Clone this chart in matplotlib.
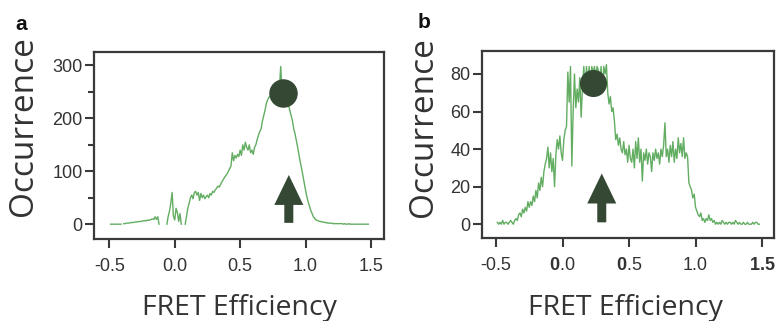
import numpy as np
import matplotlib
matplotlib.use("Agg")
import matplotlib.pyplot as plt

plt.rcParams['axes.unicode_minus'] = False
plt.rcParams['mathtext.fontset'] = 'custom'
plt.rcParams['mathtext.rm'] = 'Liberation Sans'
plt.rcParams['mathtext.bf'] = 'Liberation Sans:bold'

nan = np.nan

# ---------------- data ----------------
x_a = np.round(np.arange(-0.49, 1.485, 0.01), 2)
occ_a = [
    0, 0, 0, 0, 0, 0, 0, 0, 0, nan,            # -0.49 .. -0.40
    1, 1, 2, 2, 2, 3, 3, 3, 4, 4,              # -0.39 .. -0.30
    4, 5, 5, 5, 6, 6, 7, 6, 8, 7,              # -0.29 .. -0.20
    8, 9, 10, 9, 14, 9, 14, 0, nan, nan,       # -0.19 .. -0.10
    nan, nan, nan, 0, 15, 25, 40, 60, 15, 8,   # -0.09 .. 0.00
    30, 22, 5, 20, 0, nan, nan, 0, 15, 30,     # 0.01 .. 0.10
    40, 50, 55, 48, 60, 62, 55, 60, 45, 58,    # 0.11 .. 0.20
    50, 55, 48, 52, 55, 50, 58, 55, 62, 60,    # 0.21 .. 0.30
    65, 68, 72, 70, 75, 80, 84, 88, 92, 95,    # 0.31 .. 0.40
    100, 105, 110, 135, 120, 130, 125, 132, 128, 140,  # 0.41 .. 0.50
    130, 150, 140, 155, 145, 140, 150, 135, 140, 132,  # 0.51 .. 0.60
    145, 150, 160, 168, 175, 180, 195, 205, 215, 228,  # 0.61 .. 0.70
    235, 240, 242, 240, 255, 248, 260, 252, 265, 255,  # 0.71 .. 0.80
    298, 255, 250, 245, 238, 230, 225, 215, 205, 195,  # 0.81 .. 0.90
    180, 170, 158, 145, 130, 118, 105, 92, 78, 64,     # 0.91 .. 1.00
    52, 42, 34, 26, 20, 14, 11, 8, 7, 6,               # 1.01 .. 1.10
    5, 5, 4, 4, 3, 3, 2, 2, 2, 2,                      # 1.11 .. 1.20
    1, 1, 1, 1, 1, 1, 1, 1, 0, 1,                      # 1.21 .. 1.30
    0, 0, 1, 0, 0, 0, 0, 0, 0, 0,                      # 1.31 .. 1.40
    0, 0, 0, 0, 0, 0, 0, 0,                            # 1.41 .. 1.48
]

x_b = np.round(np.arange(-0.49, 1.485, 0.01), 2)
occ_b = [
    1, 0, 1, 0, 2, 0, 1, 1, 0, 1,              # -0.49 .. -0.40
    2, 1, 0, 2, 3, 2, 5, 6, 4, 8,              # -0.39 .. -0.30
    6, 9, 7, 12, 9, 12, 10, 15, 12, 18,        # -0.29 .. -0.20
    14, 22, 18, 25, 20, 28, 32, 35, 41, 30,    # -0.19 .. -0.10
    38, 28, 35, 20, 37, 45, 40, 47, 38, 34,    # -0.09 .. 0.00
    45, 50, 52, 81, 65, 84, 31, 60, 80, 62,    # 0.01 .. 0.10
    72, 65, 78, 57, 73, 84, 70, 84, 75, 84,    # 0.11 .. 0.20
    72, 84, 80, 84, 78, 84, 82, 75, 84, 70,    # 0.21 .. 0.30
    84, 80, 85, 70, 64, 68, 60, 62, 55, 45,    # 0.31 .. 0.40
    48, 42, 46, 40, 38, 44, 37, 40, 33, 42,    # 0.41 .. 0.50
    35, 33, 40, 30, 44, 35, 46, 33, 40, 23,    # 0.51 .. 0.60
    38, 34, 40, 32, 38, 36, 28, 38, 34, 40,    # 0.61 .. 0.70
    35, 38, 32, 40, 36, 42, 54, 36, 40, 33,    # 0.71 .. 0.80
    42, 36, 44, 33, 40, 35, 46, 38, 43, 36,    # 0.81 .. 0.90
    46, 35, 38, 36, 22, 20, 18, 14, 16, 9,     # 0.91 .. 1.00
    7, 5, 4, 6, 2, 3, 1, 3, 2, 5,              # 1.01 .. 1.10
    2, 3, 1, 2, 0, 1, 0, 1, 0, 2,              # 1.11 .. 1.20
    1, 0, 1, 0, 1, 1, 0, 1, 0, 2,              # 1.21 .. 1.30
    1, 0, 1, 0, 0, 1, 0, 0, 1, 0,              # 1.31 .. 1.40
    0, 0, 1, 0, 1, 1, 0, 0,                    # 1.41 .. 1.48
]

# marker (circle) and arrow annotations
circle_a = (0.828, 248)
circle_b = (0.232, 75)
arrow_a = (0.872, 2.5, 93)   # x, base, tip
arrow_b = (0.295, 1.0, 27)

xticks = [-0.5, 0.0, 0.5, 1.0, 1.5]
xticklabels_a = ['-0.5', '0.0', '0.5', '1.0', '1.5']
xticklabels_b = ['-0.5', r'$\mathbf{0}$.0', r'$\mathbf{0}$.5', '1.0', r'$\mathbf{1.5}$']
yticks_a = [0, 100, 200, 300]
yminor_a = [50, 150, 250]
yticks_b = [0, 20, 40, 60, 80]

# ---------------- styling ----------------
LINE = '#62ad62'
DARK = '#344834'
SPINE = '#3a3a3a'
TXT = '#333333'
W, H = 776, 321

fig = plt.figure(figsize=(W / 100, H / 100), dpi=100)

def px_axes(l, t, r, b):
    return fig.add_axes([l / W, 1 - b / H, (r - l) / W, (b - t) / H])

ax_a = px_axes(94.3, 51.7, 384.3, 239.0)
ax_b = px_axes(482.3, 50.7, 774.3, 238.3)

def style(ax, xlim, ylim, yticks, xlabels):
    ax.set_xlim(*xlim)
    ax.set_ylim(*ylim)
    for s in ax.spines.values():
        s.set_color(SPINE)
        s.set_linewidth(1.6)
    ax.set_xticks(xticks)
    ax.set_xticklabels(xlabels)
    ax.set_yticks(yticks)
    ax.tick_params(axis='both', which='major', direction='out', length=6.5,
                   width=1.5, color=SPINE, labelsize=13, labelcolor=TXT)
    ax.tick_params(axis='x', pad=7)
    ax.tick_params(axis='y', pad=2)
    ax.tick_params(axis='both', which='minor', direction='out', length=4,
                   width=1.5, color=SPINE)
    for lab in ax.get_xticklabels() + ax.get_yticklabels():
        lab.set_fontfamily('Liberation Sans')

ax_a.plot(x_a, occ_a, color=LINE, lw=1.0, zorder=2)
style(ax_a, (-0.615, 1.602), (-28, 326), yticks_a, xticklabels_a)
ax_a.set_yticks(yminor_a, minor=True)
ax_a.tick_params(axis='x', which='minor', length=0)

ax_b.plot(x_b, occ_b, color=LINE, lw=1.0, zorder=2)
style(ax_b, (-0.603, 1.592), (-7.5, 92.4), yticks_b, xticklabels_b)

# circles
ax_a.plot([circle_a[0]], [circle_a[1]], 'o', ms=19.5, color=DARK, mec=DARK, zorder=4)
ax_b.plot([circle_b[0]], [circle_b[1]], 'o', ms=18.5, color=DARK, mec=DARK, zorder=4)

# arrows
def up_arrow(ax, spec, px_per_x, px_per_y):
    x, base, tip = spec
    ax.arrow(x, base, 0, tip - base, width=9 / px_per_x, head_width=29 / px_per_x,
             head_length=30 / px_per_y, length_includes_head=True,
             color=DARK, lw=0, zorder=4)

up_arrow(ax_a, arrow_a, 130.8, 0.53)
up_arrow(ax_b, arrow_b, 133.0, 1.879)

# axis labels
LAB_FONT = ['Open Sans', 'DejaVu Sans']
for ax, ybx, yc in [(ax_a, (32 - 94.3) / 290.0, 0.603), (ax_b, (432.5 - 482.3) / 292.0, 0.595)]:
    ax.text(ybx, yc, 'Occurrence', rotation=90, rotation_mode='anchor',
            ha='center', va='baseline', transform=ax.transAxes,
            fontsize=24, family=LAB_FONT, color=TXT)
ax_a.text(0.5, (239 - 315) / 187.3, 'FRET Efficiency', ha='center', va='baseline',
          transform=ax_a.transAxes, fontsize=20.5, family=LAB_FONT, color=TXT)
ax_b.text((625 - 482.3) / 292.0, (238.3 - 315) / 187.6, 'FRET Efficiency', ha='center',
          va='baseline', transform=ax_b.transAxes, fontsize=20.5, family=LAB_FONT, color=TXT)

# panel letters
fig.text(15 / W, 1 - 30 / H, 'a', fontsize=15, fontweight='bold',
         family='Liberation Sans', va='baseline', color='#111111')
fig.text(418 / W, 1 - 28 / H, 'b', fontsize=15, fontweight='bold',
         family='Liberation Sans', va='baseline', color='#111111')

fig.savefig('out.png', dpi=100)
